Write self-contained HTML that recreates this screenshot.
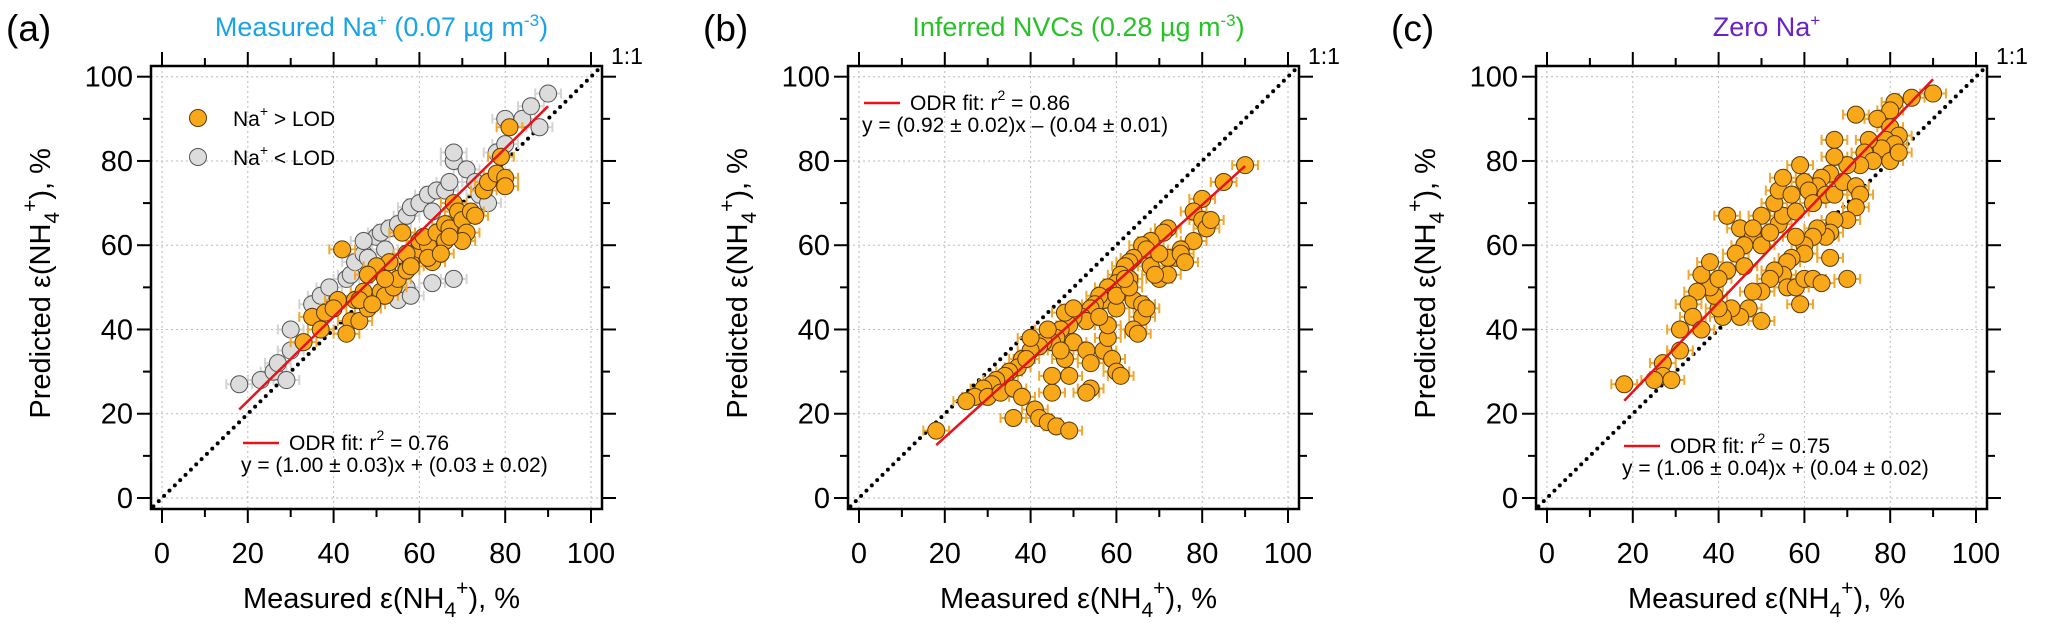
<!DOCTYPE html>
<html><head><meta charset="utf-8"><style>
html,body{margin:0;padding:0;background:#fff;}
svg{display:block;font-family:"Liberation Sans",Arial,sans-serif;}
</style></head><body>
<svg id="fig" width="2067" height="635" viewBox="0 0 2067 635" xmlns="http://www.w3.org/2000/svg"></svg>
<script>
// Panel (a) data
const aOrangeX=[33,35,38,37,41,44,46,43,45,47,48,51,52,54,55,57,58,60,57,53,50,48,42,60,62,63,61,64,66,66,67,68,69,70,72,71,73,75,76,78,79,80,80,81,56,58,62,65,70,67,52,46,40,49];
const aOrangeY=[37,43,44,40,47,42,42,39,47,49,45,49,48,50,52,54,56,59,58,56,55,53,59,61,60,56,62,63,65,61,64,70,68,66,68,63,67,73,75,77,81,76,74,88,63,55,57,58,61,62,52,47,45,46];
const aGrayX=[18,23,26,29,30,30,27,35,37,39,43,44,45,47,48,50,51,53,55,57,58,60,62,63,64,66,67,68,68,71,73,74,78,80,80,84,86,90,88,76,68,63,57,55,60,58,47,66,62,52];
const aGrayY=[27,28,30,28,40,35,32,46,48,50,52,53,56,58,57,62,63,64,65,67,69,70,72,68,73,73,75,80,82,78,75,72,82,84,90,90,93,96,88,70,52,51,50,47,60,48,61,63,58,59];
// Panel (b) data
const bX=[18,90,85,80,78,80,81,82,78,75,74,72,71,72,70,72,68,66,67,64,63,62,61,63,60,58,59,57,56,55,54,52,53,50,49,47,46,45,43,42,40,38,37,35,34,32,31,29,27,25,30,33,36,38,41,42,36,44,46,49,45,45,49,48,50,53,54,54,53,57,58,59,60,61,58,56,60,60,64,63,66,66,67,64,65,62,68,70,69,75,76,48,50,44,40,39,47];
const bY=[16,79,75,71,68,66,64,66,61,59,57,64,63,57,52,53,61,60,59,57,56,55,53,52,51,50,48,47,48,46,45,43,42,43,41,40,38,37,37,36,35,33,31,30,29,28,27,26,24,23,24,25,26,24,21,19,19,18,17,16,25,29,29,33,37,35,32,26,25,35,38,33,30,29,41,43,45,48,47,50,46,43,45,40,39,52,55,58,53,58,56,44,45,40,38,33,35];
// Panel (c) data
const cX=[18,90,85,81,80,72,77,80,82,79,81,78,75,74,76,80,82,73,70,67,67,66,64,63,65,67,69,72,73,72,70,67,66,65,63,62,60,58,60,57,56,55,56,58,59,60,62,64,66,70,53,52,50,48,47,50,45,43,41,40,39,38,36,35,33,34,36,31,31,27,27,25,29,42,45,48,50,46,44,46,42,40,38,54,55,53,54,55,57,59,60,61,62,58,52,50,48];
const cY=[27,96,95,94,92,91,90,88,86,85,84,83,85,82,80,80,82,79,79,85,81,77,76,74,72,72,75,74,72,69,66,66,63,62,64,62,60,62,58,57,56,53,50,50,46,52,52,51,57,52,54,52,49,49,45,42,43,45,43,45,48,50,53,49,46,43,40,40,35,32,29,28,28,67,64,62,60,60,58,55,54,52,56,65,67,70,73,76,72,79,75,73,70,68,63,67,64];
// fits [slope, intercept, xStart, xEnd]
const fitA=[1.00,3,18,90];
const fitB=[0.92,-4,18,90];
const fitC=[1.06,4,18,90];
const ticks=[0,20,40,60,80,100];
const errHalf=3;

const NS="http://www.w3.org/2000/svg";
const svg=document.getElementById('fig');
function mk(tag,attrs,parent){const e=document.createElementNS(NS,tag);for(const k in attrs)e.setAttribute(k,attrs[k]);(parent||svg).appendChild(e);return e;}

function panel(id,x0,title,titleColor,letter){
  const g=mk('g',{});
  
  
  const X=v=>x0+v*4.29, Y=v=>498-v*4.213;
  const L=x0-11,R=x0+440,T=66,B=509;
  for(const t of ticks){
    const gl=mk('line',{x1:X(t),x2:X(t),y1:T,y2:B,stroke:'#bbb','stroke-width':1,'stroke-dasharray':'2,3'},g);
    
    const gh=mk('line',{x1:L,x2:R,y1:Y(t),y2:Y(t),stroke:'#bbb','stroke-width':1,'stroke-dasharray':'2,3'},g);
    
  }
  for(let t=0;t<=100;t+=10){
    const maj=t%20===0, len=maj?14:8;
    mk('line',{x1:X(t),x2:X(t),y1:B,y2:B+len,stroke:'#000','stroke-width':2},g);
    mk('line',{x1:X(t),x2:X(t),y1:T,y2:T-len,stroke:'#000','stroke-width':2},g);
    mk('line',{x1:L,x2:L-len,y1:Y(t),y2:Y(t),stroke:'#000','stroke-width':2},g);
    mk('line',{x1:R,x2:R+len,y1:Y(t),y2:Y(t),stroke:'#000','stroke-width':2},g);
  }
  for(const t of ticks){
    const tx=mk('text',{x:X(t),y:B+54,'font-size':29,'text-anchor':'middle'},g);tx.textContent=t;
    
    const ty=mk('text',{x:L-18,y:Y(t)+10,'font-size':29,'text-anchor':'end'},g);ty.textContent=t;
    
  }
  const fr=mk('rect',{x:L,y:T,width:R-L,height:B-T,fill:'none',stroke:'#000','stroke-width':2.5},g);
  
  const one=mk('line',{x1:X(-2),y1:Y(-2),x2:X(102),y2:Y(102),stroke:'#000','stroke-width':4,'stroke-dasharray':'0,7.5','stroke-linecap':'round'},g);
  
  const ol=mk('text',{x:R+9,y:T-2,'font-size':23},g);ol.textContent='1:1';
  
  const xt=mk('text',{x:X(50)+5,y:608,'font-size':29,'text-anchor':'middle'},g);
  xt.innerHTML='Measured ε(NH<tspan font-size="21" dy="9">4</tspan><tspan font-size="21" dy="-22">+</tspan><tspan dy="13">), %</tspan>';
  
  const yt=mk('text',{x:0,y:0,'font-size':29,'text-anchor':'middle',transform:`translate(${x0-112},${Y(50)-4}) rotate(-90)`},g);
  yt.innerHTML='Predicted ε(NH<tspan font-size="21" dy="9">4</tspan><tspan font-size="21" dy="-22">+</tspan><tspan dy="13">), %</tspan>';
  
  const tt=mk('text',{x:X(50)+5,y:36,'font-size':27,'text-anchor':'middle',fill:titleColor},g);
  tt.innerHTML=title;
  
  const lt=mk('text',{x:x0-156,y:41,'font-size':37},g);lt.textContent='('+letter+')';
  
  return {g,X,Y};
}
function series(p,xs,ys,fill,stroke,errColor,name){
  const g=mk('g',{},p.g);
  
  
  for(let i=0;i<xs.length;i++){
    const y=p.Y(ys[i]),a=p.X(xs[i]-errHalf),b=p.X(xs[i]+errHalf);
    mk('path',{d:`M${a},${y}H${b}M${a},${y-5}V${y+5}M${b},${y-5}V${y+5}`,stroke:errColor,'stroke-width':2,fill:'none'},g);
  }
  for(let i=0;i<xs.length;i++){
    const c=mk('circle',{cx:p.X(xs[i]),cy:p.Y(ys[i]),r:8.5,fill:fill,stroke:stroke,'stroke-width':1},g);
    
    
  }
}
function fit(p,f){
  const l=mk('line',{x1:p.X(f[2]),y1:p.Y(f[0]*f[2]+f[1]),x2:p.X(f[3]),y2:p.Y(f[0]*f[3]+f[1]),stroke:'#e8121b','stroke-width':2.5},p.g);
  
}
function fitText(p,lx,ly,r2,eq){
  const s=mk('line',{x1:lx,x2:lx+36,y1:ly,y2:ly,stroke:'#e8121b','stroke-width':2.5},p.g);
  
  const t=mk('text',{x:lx+46,y:ly+7,'font-size':21},p.g);
  t.innerHTML='ODR fit: r<tspan font-size="14" dy="-10">2</tspan><tspan dy="10"> = '+r2+'</tspan>';
  
  const e=mk('text',{x:lx-2,y:ly+29,'font-size':21},p.g);e.textContent=eq;
  
}
const sup='<tspan font-size="17" dy="-10">+</tspan><tspan dy="10">';
const pa=panel('a',162,'Measured Na'+sup+' (0.07 µg m</tspan><tspan font-size="17" dy="-10">-3</tspan><tspan dy="10">)</tspan>','#1aa3e6','a');
series(pa,aGrayX,aGrayY,'#dcdcdc','#555','#d4d4d4','series-na-below-lod');
series(pa,aOrangeX,aOrangeY,'#f9a81a','#5a3a05','#f0a830','series-na-above-lod');
fit(pa,fitA);
fitText(pa,243,443,'0.76','y = (1.00 ± 0.03)x + (0.03 ± 0.02)');
const lg=mk('g',{},pa.g);
mk('circle',{cx:198,cy:118,r:8.5,fill:'#f9a81a',stroke:'#5a3a05'},lg);
mk('circle',{cx:198,cy:157,r:8.5,fill:'#dcdcdc',stroke:'#555'},lg);
const l1=mk('text',{x:233,y:126,'font-size':21},lg);l1.innerHTML='Na<tspan font-size="14" dy="-10">+</tspan><tspan dy="10"> &gt; LOD</tspan>';

const l2=mk('text',{x:233,y:165,'font-size':21},lg);l2.innerHTML='Na<tspan font-size="14" dy="-10">+</tspan><tspan dy="10"> &lt; LOD</tspan>';


const pb=panel('b',859,'Inferred NVCs (0.28 µg m<tspan font-size="17" dy="-10">-3</tspan><tspan dy="10">)</tspan>','#28c228','b');
series(pb,bX,bY,'#f9a81a','#5a3a05','#f0a830','series-nvc');
fit(pb,fitB);
fitText(pb,864,103,'0.86','y = (0.92 ± 0.02)x – (0.04 ± 0.01)');

const pc=panel('c',1547,'Zero Na'+sup+'</tspan>','#6a22c8','c');
series(pc,cX,cY,'#f9a81a','#5a3a05','#f0a830','series-zero-na');
fit(pc,fitC);
fitText(pc,1624,446,'0.75','y = (1.06 ± 0.04)x + (0.04 ± 0.02)');
</script>
</body></html>
